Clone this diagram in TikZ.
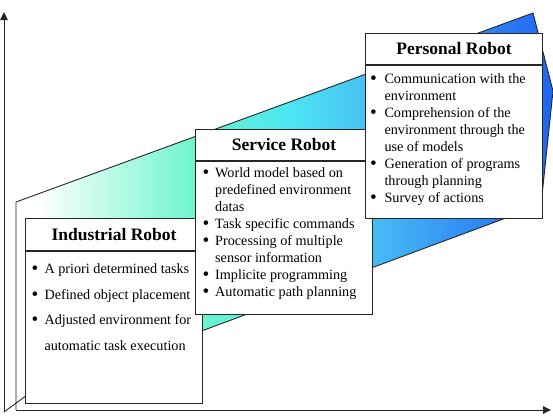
\documentclass[tikz,border=0pt]{standalone}
\usepackage{fontspec}
\setmainfont{Liberation Serif}
\usetikzlibrary{arrows.meta}
\definecolor{shW}{rgb}{1,1,1}
\definecolor{shM}{rgb}{0.42,0.96,0.80}
\definecolor{shC}{rgb}{0.30,0.90,0.95}
\definecolor{shS}{rgb}{0.27,0.72,0.96}
\definecolor{shB}{rgb}{0.13,0.40,0.95}
\definecolor{edge}{rgb}{0.15,0.15,0.15}
\pgfdeclarehorizontalshading{robshade}{100bp}{color(0bp)=(shW); color(27bp)=(shW); color(42bp)=(shM); color(50.5bp)=(shC); color(59bp)=(shS); color(74.5bp)=(shB); color(100bp)=(shB)}
\newcommand{\rbul}[1][13pt]{\makebox[#1][l]{\smash{\raisebox{-1.3pt}{\scalebox{1.35}{\textbullet}}}}}
\begin{document}
\begin{tikzpicture}[x=1pt,y=-1pt,
  axis/.style={draw=edge, line width=0.9pt, -{Triangle[length=8pt,width=7.5pt]}},
  outl/.style={draw=edge, line width=0.9pt, line join=miter},
  box/.style={draw=edge, line width=1.1pt, fill=white, rectangle, inner sep=0pt, anchor=north west},
  sep/.style={draw=edge, line width=1.1pt},
  ttl/.style={font=\fontsize{17.5}{20}\selectfont\bfseries, inner sep=0pt},
  itm/.style={font=\fontsize{14.2}{17}\selectfont, inner sep=0pt, anchor=base west}]
\useasboundingbox (0,0) rectangle (553,415);
% coordinates
\coordinate (o) at (4,412);
\coordinate (ytop) at (4,12);
\coordinate (xs) at (16,410);
\coordinate (xe) at (551,410);
\coordinate (pa) at (16,202);
\coordinate (pb) at (533,13);
\coordinate (pc) at (553,91);
\coordinate (pd) at (541,205);
\coordinate (pk) at (25,396.5);
\coordinate (pe) at (16,403);
% gradient shape
\shade[shading=robshade] (pa) -- (pb) -- (pc) -- (pd) -- (pk) -- (pe) -- cycle;
\draw[outl] (xs) -- (pa) -- (pb) -- (pc) -- (pd) -- (pk) -- (o);
% axes
\draw[axis] (o) -- (ytop);
\draw[axis] (xs) -- (xe);
% Industrial robot box
\node[box, minimum width=177pt, minimum height=185pt] (ind) at (25,218) {};
\draw[sep] ([yshift=-33pt]ind.north west) -- ([yshift=-33pt]ind.north east);
\node[ttl] (indT) at ([yshift=-16.5pt]ind.north) {Industrial Robot};
\node[itm] (i1) at (31.3,273.5) {\rbul A priori determined tasks};
\node[itm] (i2) at (31.3,299) {\rbul Defined object placement};
\node[itm] (i3) at (31.3,324.5) {\rbul Adjusted environment for};
\node[itm] (i4) at (44.3,350.5) {automatic task execution};
% Service robot box
\node[box, minimum width=177pt, minimum height=185pt] (ser) at (195,129) {};
\draw[sep] ([yshift=-32pt]ser.north west) -- ([yshift=-32pt]ser.north east);
\node[ttl] (serT) at ([yshift=-16pt]ser.north) {Service Robot};
\node[itm] (s1) at (202.5,177.5) {\rbul[12.5pt]World model based on};
\node[itm] (s2) at (215,194.5) {predefined environment};
\node[itm] (s3) at (215,211.5) {datas};
\node[itm] (s4) at (202.5,228.5) {\rbul[12.5pt]Task specific commands};
\node[itm] (s5) at (202.5,245.5) {\rbul[12.5pt]Processing of multiple};
\node[itm] (s6) at (215,262.5) {sensor information};
\node[itm] (s7) at (202.5,279.5) {\rbul[12.5pt]Implicite programming};
\node[itm] (s8) at (202.5,296.5) {\rbul[12.5pt]Automatic path planning};
% Personal robot box
\node[box, minimum width=177pt, minimum height=185pt] (per) at (365,33) {};
\draw[sep] ([yshift=-32pt]per.north west) -- ([yshift=-32pt]per.north east);
\node[ttl] (perT) at ([yshift=-16pt]per.north) {Personal Robot};
\node[itm] (p1) at (369.8,83.5) {\rbul[14.5pt]Communication with the};
\node[itm] (p2) at (384.3,100.5) {environment};
\node[itm] (p3) at (369.8,117.5) {\rbul[14.5pt]Comprehension of the};
\node[itm] (p4) at (384.3,134.5) {environment through the};
\node[itm] (p5) at (384.3,151.5) {use of models};
\node[itm] (p6) at (369.8,168.5) {\rbul[14.5pt]Generation of programs};
\node[itm] (p7) at (384.3,185.5) {through planning};
\node[itm] (p8) at (369.8,202.5) {\rbul[14.5pt]Survey of actions};
\end{tikzpicture}
\end{document}
